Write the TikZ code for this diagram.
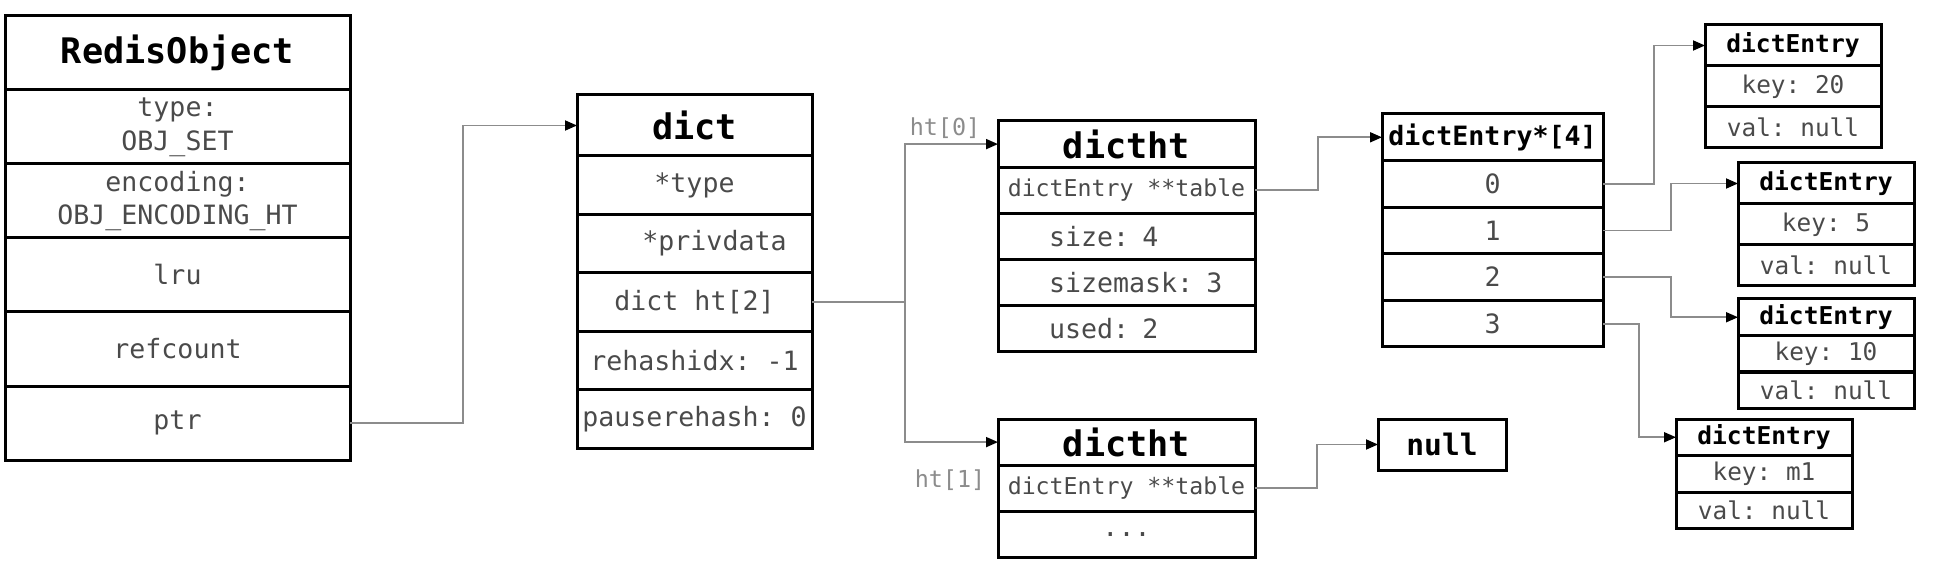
\documentclass[tikz,border=0pt]{standalone}
\usepackage{fontspec}
\setmonofont{DejaVu Sans Mono}
\usepackage{tikz}
\usetikzlibrary{positioning,arrows.meta}
\definecolor{txtgray}{HTML}{4A4A4A}
\definecolor{linegray}{HTML}{8C8C8C}
\tikzstyle{cell} = [draw=black, line width=1.5pt, rectangle, outer sep=0pt, inner sep=0pt, align=center, text=txtgray]
\tikzstyle{head} = [cell, text=black]
\tikzstyle{lrow} = [align=left, text width=128.5pt, inner xsep=0pt, execute at begin node=\hspace*{25.5pt}]
\tikzstyle{link} = [draw=linegray, line width=0.9pt, -{Triangle[color=black, length=6pt, width=5pt]}]
\tikzstyle{tag} = [text=linegray, font=\ttfamily\fontsize{11.7}{14}\selectfont]
\tikzstyle{fbig} = [font=\ttfamily\bfseries\fontsize{17.6}{20}\selectfont]
\tikzstyle{fnull} = [font=\ttfamily\bfseries\fontsize{14.8}{17}\selectfont]
\tikzstyle{fmidb} = [font=\ttfamily\bfseries\fontsize{13.3}{16}\selectfont]
\tikzstyle{fmid} = [font=\ttfamily\fontsize{13.3}{16.8}\selectfont]
\tikzstyle{fsmall} = [font=\ttfamily\fontsize{11.6}{14}\selectfont]
\tikzstyle{fentb} = [font=\ttfamily\bfseries\fontsize{12.3}{14.5}\selectfont]
\tikzstyle{fent} = [font=\ttfamily\fontsize{12.2}{14.5}\selectfont]
\tikzstyle{robox} = [minimum width=172.5pt, minimum height=37pt]
\tikzstyle{dcbox} = [minimum width=117.5pt, minimum height=29.2pt]
\tikzstyle{htbox} = [minimum width=128.5pt, minimum height=23.1pt]
\tikzstyle{arbox} = [minimum width=110.5pt, minimum height=23.3pt]
\tikzstyle{enbox} = [minimum width=88pt, minimum height=20.5pt]
\tikzstyle{enboxs} = [minimum width=88pt, minimum height=18.25pt]

\begin{document}
\begin{tikzpicture}[x=0.5pt, y=-0.5pt]
	\useasboundingbox (0,0) rectangle (1939,572);
	\node[head, robox, fbig, anchor=north west] (ro1) at (5,16) {RedisObject};
	\node[cell, robox, fmid, below=0pt of ro1] (ro2) {type:\\OBJ\_SET};
	\node[cell, robox, fmid, below=0pt of ro2] (ro3) {encoding:\\OBJ\_ENCODING\_HT};
	\node[cell, robox, fmid, below=0pt of ro3] (ro4) {lru};
	\node[cell, robox, fmid, below=0pt of ro4] (ro5) {refcount};
	\node[cell, robox, fmid, below=0pt of ro5] (ro6) {ptr};
	
	\node[head, dcbox, fbig, minimum height=30.5pt, anchor=north west] (dc1) at (577,95) {dict};
	\node[cell, dcbox, fmid, below=0pt of dc1] (dc2) {*type};
	\node[cell, dcbox, fmid, below=0pt of dc2] (dc3) {\hspace{20pt}*privdata};
	\node[cell, dcbox, fmid, below=0pt of dc3] (dc4) {dict ht[2]};
	\node[cell, dcbox, fmid, below=0pt of dc4] (dc5) {rehashidx: -1};
	\node[cell, dcbox, fmid, below=0pt of dc5] (dc6) {pauserehash: 0};
	
	\node[head, htbox, fbig, anchor=north west] (ha1) at (998,121) {dictht};
	\node[cell, htbox, fsmall, below=0pt of ha1] (ha2) {dictEntry **table};
	\node[cell, htbox, fmid, lrow, below=0pt of ha2] (ha3) {size: 4};
	\node[cell, htbox, fmid, lrow, below=0pt of ha3] (ha4) {sizemask: 3};
	\node[cell, htbox, fmid, lrow, below=0pt of ha4] (ha5) {used: 2};
	
	\node[head, htbox, fbig, anchor=north west] (hb1) at (998,419) {dictht};
	\node[cell, htbox, fsmall, below=0pt of hb1] (hb2) {dictEntry **table};
	\node[cell, htbox, fmid, below=0pt of hb2] (hb3) {...};
	
	\node[tag] (t0) at (945,128) {ht[0]};
	\node[tag] (t1) at (950,480) {ht[1]};
	
	\node[head, arbox, fmidb, anchor=north west] (ar1) at (1382,114) {dictEntry*[4]};
	\node[cell, arbox, fmid, below=0pt of ar1] (ar2) {0};
	\node[cell, arbox, fmid, below=0pt of ar2] (ar3) {1};
	\node[cell, arbox, fmid, below=0pt of ar3] (ar4) {2};
	\node[cell, arbox, fmid, below=0pt of ar4] (ar5) {3};
	
	\node[head, fnull, minimum width=64pt, minimum height=25.5pt, anchor=north west] (nul) at (1378,419) {null};
	
	\node[head, enbox, fentb, anchor=north west] (ea1) at (1705,25) {dictEntry};
	\node[cell, enbox, fent, below=0pt of ea1] (ea2) {key: 20};
	\node[cell, enbox, fent, below=0pt of ea2] (ea3) {val: null};
	
	\node[head, enbox, fentb, anchor=north west] (eb1) at (1738,163) {dictEntry};
	\node[cell, enbox, fent, below=0pt of eb1] (eb2) {key: 5};
	\node[cell, enbox, fent, below=0pt of eb2] (eb3) {val: null};
	
	\node[head, enboxs, fentb, anchor=north west] (ec1) at (1738,299) {dictEntry};
	\node[cell, enboxs, fent, below=0pt of ec1] (ec2) {key: 10};
	\node[cell, enboxs, fent, below=0pt of ec2] (ec3) {val: null};
	
	\node[head, enboxs, fentb, anchor=north west] (ed1) at (1676,419) {dictEntry};
	\node[cell, enboxs, fent, below=0pt of ed1] (ed2) {key: m1};
	\node[cell, enboxs, fent, below=0pt of ed2] (ed3) {val: null};
	
	\draw[link] (ro6.east) -- ++(56.5pt,0) |- (dc1.west);
	\draw[link] (dc4.east) -- ++(46.5pt,0) coordinate (fork) |- (ha1.west);
	\draw[link] (fork) |- (hb1.west);
	\draw[link] (ha2.east) -- ++(31.5pt,0) |- (ar1.west);
	\draw[link] (hb2.east) -- ++(31pt,0) |- (nul.west);
	\draw[link] (ar2.east) -- ++(25.5pt,0) |- (ea1.west);
	\draw[link] (ar3.east) -- ++(34pt,0) |- (eb1.west);
	\draw[link] (ar4.east) -- ++(34pt,0) |- (ec1.west);
	\draw[link] (ar5.east) -- ++(18pt,0) |- (ed1.west);
\end{tikzpicture}
\end{document}
